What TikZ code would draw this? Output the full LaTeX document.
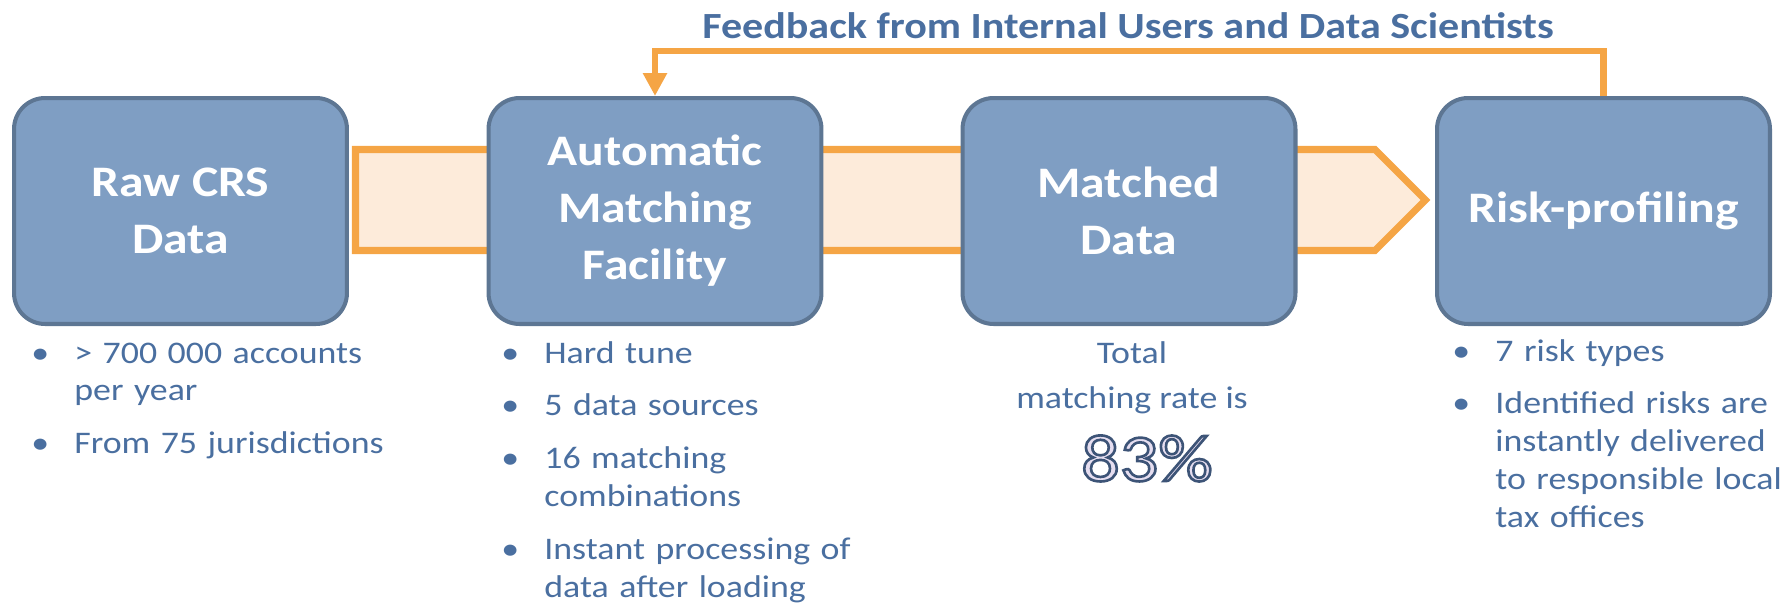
\documentclass[tikz,border=0pt]{standalone}
\usepackage{fontspec}
\setmainfont{Carlito}[FakeStretch=1.14]
\usetikzlibrary{positioning}
\usetikzlibrary{arrows.meta}

\definecolor{boxfill}{HTML}{7F9EC3}
\definecolor{boxline}{HTML}{5D7693}
\definecolor{flow}{HTML}{F5A545}
\definecolor{flowfill}{HTML}{FDEBDA}
\definecolor{txtblue}{HTML}{4A6FA0}
\definecolor{ratefill}{HTML}{E6DEF0}

\newcommand{\bitem}[1]{\ifvmode\vskip8.5pt\fi\hangindent=24.5pt\hangafter=1\noindent\makebox[24.5pt][l]{\textbullet}#1\par}
\newcommand{\outlined}[1]{\special{pdf:literal direct 0.239 0.329 0.467 RG 1.5 w 2 Tr}#1\special{pdf:literal direct 0 Tr}}

\begin{document}
\begin{tikzpicture}[x=0.02cm,y=-0.02cm,
  stage/.style={draw=boxline,fill=boxfill,line width=2.3pt,rounded corners=0.62cm,minimum width=6.66cm,minimum height=4.52cm,align=center,text=white,font=\bfseries\fontsize{24.8}{32.4}\selectfont},
  notes/.style={text=txtblue,font=\fontsize{17.9}{21.6}\selectfont,inner sep=0pt,anchor=base west,text width=9cm},
  feedback/.style={draw=flow,line width=0.13cm,-{Triangle[width=0.46cm,length=0.46cm]}}]
  \useasboundingbox (0,0) rectangle (1791,605);

  \draw[flow,line width=4pt,fill=flowfill,line join=miter] (355.5,149.5) -- (1375,149.5) -- (1425.5,200) -- (1375,250.5) -- (355.5,250.5) -- cycle;

  \node[stage] (raw) at (180.5,211) {Raw CRS\\Data};
  \node[stage] (amf) at (655,211) {Automatic\\Matching\\Facility};
  \node[stage] (matched) at (1129,211) {Matched\\Data};
  \node[stage] (risk) at (1603.5,211) {Risk-profiling};

  \node[text=txtblue,font=\bfseries\fontsize{21}{25}\selectfont,anchor=base] (fbtitle) at (1128,38) {Feedback from Internal Users and Data Scientists};
  \draw[feedback] (risk.north) -- ++(0,-45) -| (amf.north);

  \node[notes] (rawnotes) at (31,363) {\bitem{> 700 000 accounts\newline per year}\bitem{From 75 jurisdictions}};
  \node[notes] (amfnotes) at (501,363) {\bitem{Hard tune}\bitem{5 data sources}\bitem{16 matching\newline combinations}\bitem{Instant processing of\newline data after loading}};
  \node[text=txtblue,font=\fontsize{17.9}{25.6}\selectfont,align=center,anchor=base,inner sep=0pt] (total) at (1132,408) {Total\\matching rate is};
  \node[text=ratefill,font=\fontsize{38}{44}\selectfont,anchor=base,inner sep=0pt] (rate) at (1147,481) {\outlined{83\%}};
  \node[notes] (risknotes) at (1452,361) {\bitem{7 risk types}\bitem{Identified risks are\newline instantly delivered\newline to responsible local\newline tax offices}};
\end{tikzpicture}
\end{document}
